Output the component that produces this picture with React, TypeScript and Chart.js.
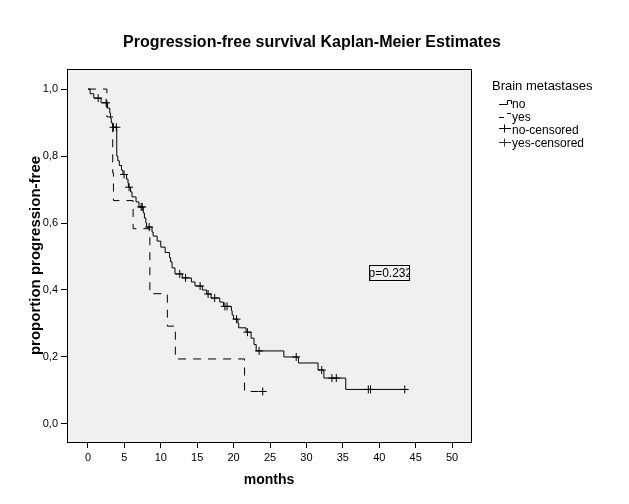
import React, { useEffect, useRef } from "react";
import { Chart, registerables } from "chart.js";

Chart.register(...registerables);

const chartTitle = "Progression-free survival Kaplan-Meier Estimates";
const xAxisTitle = "months";
const yAxisTitle = "proportion progression-free";
const legendTitle = "Brain metastases";
const legendLabels = ["no", "yes", "no-censored", "yes-censored"];
const pValueText = "p=0.232";
const pValueAt = [38.6, 0.45];

const xTicks = [0, 5, 10, 15, 20, 25, 30, 35, 40, 45, 50];
const yTicks = [0, 0.2, 0.4, 0.6, 0.8, 1.0];
const yTickLabels = ["0,0", "0,2", "0,4", "0,6", "0,8", "1,0"];

// "no" group: step times and survival after each step (last = end of follow-up)
const noTimes = [
  0, 0.3, 0.8, 1.8, 2.7, 3.0, 3.1, 3.2, 3.4, 3.95, 4.1, 4.3, 4.6, 4.8, 5.3, 5.5, 5.55,
  5.85, 6.05, 6.6, 7.0, 7.6, 7.75, 7.95, 8.05, 8.8, 8.95, 9.5, 10.0, 10.6, 11.2, 11.35,
  11.55, 11.95, 12.95, 14.2, 14.7, 15.7, 16.3, 16.9, 18.1, 18.6, 19.7, 19.8, 20.0, 20.6,
  20.7, 21.7, 22.4, 22.8, 23.1, 26.9, 28.9, 31.6, 32.4, 35.4, 43.5,
];
const noSurv = [
  1.0, 0.986, 0.973, 0.959, 0.943, 0.928, 0.913, 0.899, 0.886, 0.8, 0.786, 0.772, 0.758,
  0.745, 0.731, 0.719, 0.707, 0.693, 0.678, 0.663, 0.648, 0.63, 0.615, 0.6, 0.588, 0.573,
  0.561, 0.546, 0.528, 0.512, 0.497, 0.484, 0.466, 0.448, 0.436, 0.424, 0.412, 0.4, 0.388,
  0.376, 0.364, 0.351, 0.338, 0.325, 0.313, 0.3, 0.287, 0.274, 0.256, 0.237, 0.218, 0.2,
  0.182, 0.161, 0.137, 0.103, 0.103,
];
const noCensorTimes = [
  1.4, 2.5, 3.5, 3.9, 4.95, 5.65, 7.3, 7.45, 8.4, 12.6, 13.4, 15.4, 16.5, 17.4, 18.8, 19.1,
  20.4, 21.9, 23.5, 28.6, 32.1, 33.5, 34.1, 38.5, 38.8, 43.5,
];
const noCensorSurv = [
  0.973, 0.959, 0.886, 0.886, 0.745, 0.707, 0.648, 0.648, 0.588, 0.448, 0.436, 0.412, 0.388,
  0.376, 0.351, 0.351, 0.313, 0.274, 0.218, 0.2, 0.161, 0.137, 0.137, 0.103, 0.103, 0.103,
];

// "yes" group
const yesTimes = [0, 2.6, 3.4, 3.5, 6.2, 8.5, 10.9, 12.0, 21.5, 24.0];
const yesSurv = [1.0, 0.917, 0.75, 0.667, 0.583, 0.389, 0.292, 0.194, 0.097, 0.097];
const yesCensorTimes = [24.0];
const yesCensorSurv = [0.097];

const FONT = "'Liberation Sans', Arial, sans-serif";

const decorPlugin = {
  id: "decor",
  beforeDraw(chart: any) {
    const { ctx, chartArea: a } = chart;
    ctx.save();
    ctx.fillStyle = "#ffffff";
    ctx.fillRect(0, 0, chart.width, chart.height);
    ctx.fillStyle = "#f0f0f0";
    ctx.fillRect(a.left, a.top, a.right - a.left, a.bottom - a.top);
    ctx.restore();
  },
  afterDraw(chart: any) {
    const { ctx, chartArea: a, scales } = chart;
    ctx.save();
    // frame
    ctx.strokeStyle = "#000";
    ctx.lineWidth = 1;
    ctx.strokeRect(Math.round(a.left) + 0.5, Math.round(a.top) + 0.5, Math.round(a.right - a.left), Math.round(a.bottom - a.top));

    ctx.fillStyle = "#000";
    // main title
    ctx.font = `bold 16px ${FONT}`;
    ctx.textAlign = "center";
    ctx.textBaseline = "middle";
    ctx.fillText(chartTitle, 312, 43);

    // x title
    ctx.font = `bold 14px ${FONT}`;
    ctx.fillText(xAxisTitle, (a.left + a.right) / 2, 480);

    // y title
    ctx.save();
    ctx.translate(36, (a.top + a.bottom) / 2);
    ctx.rotate(-Math.PI / 2);
    ctx.font = `bold 15px ${FONT}`;
    ctx.fillText(yAxisTitle, 0, 0);
    ctx.restore();

    // legend
    ctx.textAlign = "left";
    ctx.textBaseline = "alphabetic";
    ctx.font = `13px ${FONT}`;
    ctx.fillText(legendTitle, 492, 90);
    ctx.font = `12px ${FONT}`;
    const baselines = [107.5, 121, 133.5, 147];
    legendLabels.forEach((t, i) => ctx.fillText(t, 512, baselines[i]));

    ctx.strokeStyle = "#000";
    ctx.lineWidth = 1;
    // no symbol
    ctx.beginPath();
    ctx.moveTo(499, 104.5);
    ctx.lineTo(507.5, 104.5);
    ctx.lineTo(507.5, 100.5);
    ctx.lineTo(511.5, 100.5);
    ctx.lineTo(511.5, 104);
    ctx.stroke();
    // yes symbol
    ctx.beginPath();
    ctx.moveTo(499, 117.5);
    ctx.lineTo(504, 117.5);
    ctx.moveTo(507, 113.5);
    ctx.lineTo(511, 113.5);
    ctx.stroke();
    // censored symbols
    [128.5, 142.5].forEach((y, i) => {
      ctx.strokeStyle = i === 0 ? "#000" : "#333";
      ctx.beginPath();
      ctx.moveTo(499, y);
      ctx.lineTo(511, y);
      ctx.moveTo(504.5, y - 4);
      ctx.lineTo(504.5, y + 4);
      ctx.stroke();
    });

    // p-value box
    const bx = Math.round(scales.x.getPixelForValue(pValueAt[0])) + 0.5;
    const by = Math.round(scales.y.getPixelForValue(pValueAt[1]));
    ctx.save();
    ctx.beginPath();
    ctx.rect(bx, by - 7.5, 40, 15);
    ctx.clip();
    ctx.font = `12px ${FONT}`;
    ctx.textBaseline = "middle";
    ctx.fillStyle = "#000";
    ctx.fillText(pValueText, bx - 1, by + 1);
    ctx.restore();
    ctx.strokeStyle = "#000";
    ctx.strokeRect(bx, by - 7.5, 40, 15);
    ctx.restore();
  },
};

export default function App() {
  const ref = useRef<HTMLCanvasElement | null>(null);

  useEffect(() => {
    if (!ref.current) return;
    const toPts = (xs: number[], ys: number[]) => xs.map((x, i) => ({ x, y: ys[i] }));
    const chart = new Chart(ref.current, {
      type: "line",
      data: {
        datasets: [
          {
            label: "no",
            data: toPts(noTimes, noSurv),
            borderColor: "#000",
            borderWidth: 1,
            pointRadius: 0,
            stepped: "before",
            fill: false,
          },
          {
            label: "yes",
            data: toPts(yesTimes, yesSurv),
            borderColor: "#000",
            borderWidth: 1,
            borderDash: [8, 7],
            pointRadius: 0,
            stepped: "before",
            fill: false,
          },
          {
            label: "no-censored",
            data: toPts(noCensorTimes, noCensorSurv),
            showLine: false,
            pointStyle: "cross",
            pointRadius: 4,
            borderColor: "#000",
            pointBorderWidth: 1,
          },
          {
            label: "yes-censored",
            data: toPts(yesCensorTimes, yesCensorSurv),
            showLine: false,
            pointStyle: "cross",
            pointRadius: 4,
            borderColor: "#000",
            pointBorderWidth: 1,
          },
        ],
      },
      options: {
        animation: false,
        responsive: false,
        devicePixelRatio: 1,
        layout: { padding: { left: 0, top: 69, right: 158, bottom: 0 } },
        plugins: {
          legend: { display: false },
          title: { display: false },
          tooltip: { enabled: false },
        },
        scales: {
          x: {
            type: "linear",
            min: -2.88,
            max: 52.6,
            afterBuildTicks: (s: any) => {
              s.ticks = xTicks.map((v) => ({ value: v }));
            },
            afterFit: (s: any) => {
              s.height = 62;
            },
            ticks: {
              autoSkip: false,
              maxRotation: 0,
              padding: 3,
              color: "#000",
              font: { family: FONT, size: 11 },
              callback: (v: any) => String(v),
            },
            grid: { drawOnChartArea: false, drawTicks: true, tickLength: 6, color: "#000" },
            border: { display: false },
          },
          y: {
            type: "linear",
            min: -0.054,
            max: 1.06,
            afterBuildTicks: (s: any) => {
              s.ticks = yTicks.map((v) => ({ value: v }));
            },
            afterFit: (s: any) => {
              s.width = 67;
            },
            ticks: {
              autoSkip: false,
              padding: 3,
              color: "#000",
              font: { family: FONT, size: 11 },
              callback: (v: any) => {
                const i = yTicks.findIndex((t) => Math.abs(t - Number(v)) < 1e-6);
                return i >= 0 ? yTickLabels[i] : "";
              },
            },
            grid: { drawOnChartArea: false, drawTicks: true, tickLength: 6, color: "#000" },
            border: { display: false },
          },
        },
      },
      plugins: [decorPlugin],
    });
    return () => chart.destroy();
  }, []);

  return (
    <div style={{ position: "fixed", left: 0, top: 0, width: 629, height: 504, background: "#fff" }}>
      <canvas ref={ref} width={629} height={504} style={{ display: "block", width: 629, height: 504 }} />
    </div>
  );
}
